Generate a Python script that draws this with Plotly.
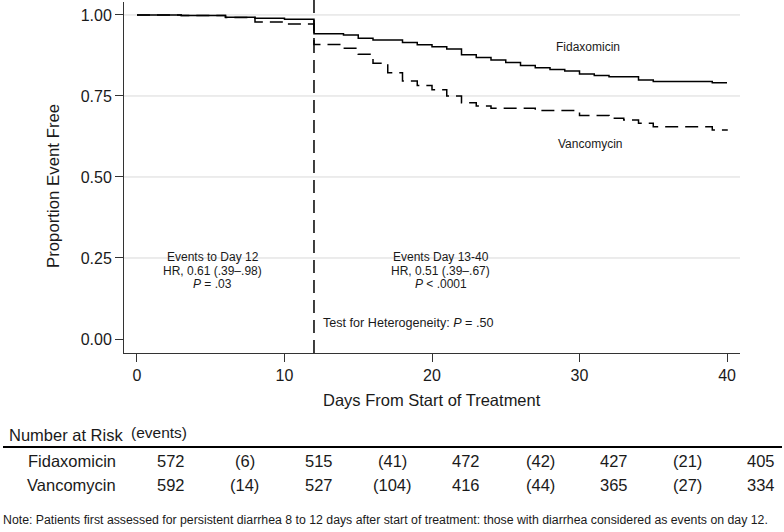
import plotly.graph_objects as go

# ---------------- data ----------------
fidax_days = [0, 3, 6, 8, 10, 12, 14, 15, 16, 18, 19, 20, 21, 22, 23, 24, 25, 26, 27, 28, 29, 30, 31, 32, 34, 35, 39, 40]
fidax_surv = [1.000, 0.998, 0.993, 0.990, 0.987, 0.942, 0.938, 0.928, 0.923, 0.915, 0.908, 0.902, 0.895, 0.877,
              0.869, 0.861, 0.853, 0.844, 0.837, 0.832, 0.827, 0.818, 0.813, 0.809, 0.799, 0.795, 0.791, 0.791]

vanco_days = [0, 3, 6, 8, 10, 12, 14, 15, 16, 17, 18, 19, 20, 21, 22, 23, 24, 27, 30, 32, 33, 34, 35, 39, 40]
vanco_surv = [1.000, 0.998, 0.992, 0.978, 0.972, 0.909, 0.897, 0.879, 0.851, 0.822, 0.796, 0.782, 0.769, 0.750,
              0.729, 0.719, 0.712, 0.705, 0.690, 0.681, 0.676, 0.666, 0.655, 0.645, 0.643]

y_ticks = [0.0, 0.25, 0.5, 0.75, 1.0]
x_ticks = [0, 10, 20, 30, 40]
grid_y = [0.25, 0.5, 0.75, 1.0]
landmark_day = 12

fidax_risk = [572, 515, 472, 427, 405]
fidax_events = [6, 41, 42, 21]
vanco_risk = [592, 527, 416, 365, 334]
vanco_events = [14, 104, 44, 27]

# ---------------- layout geometry (pixels) ----------------
W, H = 784, 532
L, R, T, B = 124, 740, 2, 353  # plot area edges


def px(x):
    return (x - L) / (R - L)


def py(y):
    return (B - y) / (B - T)


FONT = "Liberation Sans, Arial, Helvetica, sans-serif"
TXT = "#1a1a1a"

fig = go.Figure()
fig.add_trace(go.Scatter(x=fidax_days, y=fidax_surv, mode="lines", line_shape="hv",
                         line=dict(color="black", width=1.5), name="Fidaxomicin", showlegend=False))
fig.add_trace(go.Scatter(x=vanco_days, y=vanco_surv, mode="lines", line_shape="hv",
                         line=dict(color="black", width=1.5, dash="13px,7px"), name="Vancomycin",
                         showlegend=False))

shapes = []
for g in grid_y:
    shapes.append(dict(type="line", xref="paper", yref="y", x0=0, x1=1, y0=g, y1=g,
                       line=dict(color="#d9d9d9", width=1), layer="below"))
shapes.append(dict(type="line", xref="x", yref="paper", x0=landmark_day, x1=landmark_day, y0=0, y1=1.006,
                   line=dict(color="black", width=1.5, dash="13px,7px")))
# rule under table header
shapes.append(dict(type="line", xref="paper", yref="paper", x0=px(3), x1=px(782), y0=py(447), y1=py(447),
                   line=dict(color="black", width=2)))

ann = []


def add(text, x, y, size, xref="x", yref="y", xanchor="center", **kw):
    ann.append(dict(text=text, x=x, y=y, xref=xref, yref=yref, xanchor=xanchor, yanchor="middle",
                    showarrow=False, font=dict(family=FONT, size=size, color=TXT), **kw))


# in-plot annotations
add("Events to Day 12", 5.15, 0.253, 12)
add("HR, 0.61 (.39–.98)", 5.15, 0.211, 12)
add("<i>P</i> = .03", 5.15, 0.170, 12)
add("Events Day 13-40", 20.6, 0.253, 12)
add("HR, 0.51 (.39–.67)", 20.6, 0.211, 12)
add("<i>P</i> &lt; .0001", 20.6, 0.170, 12)
add("Test for Heterogeneity: <i>P</i> = .50", 12.5, 0.049, 12.6, xanchor="left")
add("Fidaxomicin", 30.6, 0.901, 12)
add("Vancomycin", 30.7, 0.602, 12)

# axis titles
add("Proportion Event Free", px(53), py(186), 16.8, xref="paper", yref="paper", textangle=-90)
add("Days From Start of Treatment", px(432), py(400), 16.5, xref="paper", yref="paper")

# number at risk table
add("Number at Risk", px(7), py(435), 16.5, xref="paper", yref="paper", xanchor="left")
add("(events)", px(129), py(432), 15.5, xref="paper", yref="paper", xanchor="left")
add("Fidaxomicin", px(118), py(461), 16.5, xref="paper", yref="paper", xanchor="right")
add("Vancomycin", px(118), py(485), 16.5, xref="paper", yref="paper", xanchor="right")

col_x0, col_dx = 171, 73.8
for row_y, risk, ev in [(461, fidax_risk, fidax_events), (485, vanco_risk, vanco_events)]:
    cells = []
    for i in range(len(risk)):
        cells.append(str(risk[i]))
        if i < len(ev):
            cells.append("(%d)" % ev[i])
    for j, c in enumerate(cells):
        add(c, px(col_x0 + j * col_dx), py(row_y), 16.5, xref="paper", yref="paper")

add("Note: Patients first assessed for persistent diarrhea 8 to 12 days after start of treatment: "
    "those with diarrhea considered as events on day 12.",
    px(1), py(520), 12.3, xref="paper", yref="paper", xanchor="left")

fig.update_layout(
    width=W, height=H,
    margin=dict(l=L, r=W - R, t=T, b=H - B),
    paper_bgcolor="white", plot_bgcolor="white",
    shapes=shapes, annotations=ann,
    font=dict(family=FONT, color=TXT),
    xaxis=dict(range=[-0.88, 40.88], tickvals=x_ticks, showgrid=False, zeroline=False,
               showline=True, linecolor="#333", linewidth=1, ticks="outside", ticklen=8,
               tickcolor="#333", tickfont=dict(size=16, family=FONT, color=TXT)),
    yaxis=dict(range=[-0.0432, 1.040], tickvals=y_ticks, tickformat=".2f", showgrid=False,
               zeroline=False, showline=True, linecolor="#333", linewidth=1, ticks="outside",
               ticklen=8, tickcolor="#333", tickfont=dict(size=16, family=FONT, color=TXT)),
)

fig.write_html("out.html", config={"displayModeBar": False},
               post_script="document.body.style.margin='0px';document.body.style.overflow='hidden';")
